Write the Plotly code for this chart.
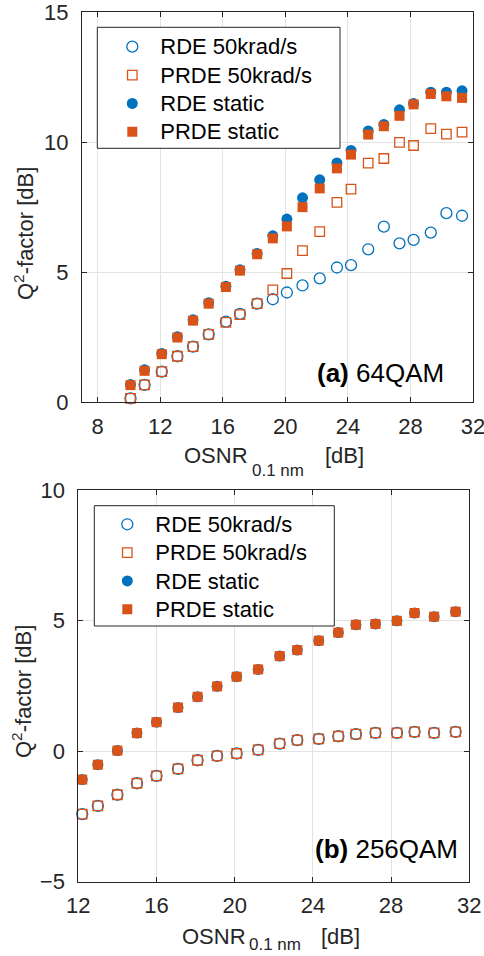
import plotly.graph_objects as go

W, H = 484, 956

# ---------------- data ----------------
osnr_64 = [10.1, 11.0, 12.1, 13.1, 14.1, 15.1, 16.2, 17.1, 18.2, 19.2, 20.1,
           21.1, 22.2, 23.3, 24.2, 25.3, 26.3, 27.3, 28.2, 29.3, 30.3, 31.3]
rde_dyn_64 = [0.15, 0.67, 1.18, 1.77, 2.14, 2.61, 3.10, 3.40, 3.79, 3.96, 4.22,
              4.49, 4.76, 5.18, 5.27, 5.88, 6.75, 6.11, 6.24, 6.52, 7.27, 7.17]
prde_dyn_64 = [0.15, 0.67, 1.18, 1.77, 2.14, 2.61, 3.07, 3.37, 3.79, 4.32, 4.95,
               5.83, 6.56, 7.68, 8.19, 9.19, 9.37, 9.99, 9.87, 10.52, 10.31, 10.38]
rde_sta_64 = [0.68, 1.25, 1.88, 2.52, 3.17, 3.83, 4.46, 5.09, 5.72, 6.40, 7.04,
              7.86, 8.55, 9.20, 9.68, 10.43, 10.68, 11.24, 11.48, 11.92, 11.92, 11.97]
prde_sta_64 = [0.66, 1.21, 1.85, 2.49, 3.14, 3.79, 4.43, 5.06, 5.69, 6.30, 6.76,
               7.50, 8.22, 8.99, 9.52, 10.29, 10.61, 11.01, 11.45, 11.85, 11.76, 11.70]

osnr_256 = [12.2, 13.0, 14.0, 15.0, 16.0, 17.1, 18.1, 19.1, 20.1, 21.2,
            22.3, 23.2, 24.3, 25.3, 26.2, 27.2, 28.3, 29.2, 30.2, 31.3]
rde_dyn_256 = [-2.41, -2.10, -1.67, -1.23, -0.95, -0.68, -0.35, -0.18, -0.09, 0.05,
               0.29, 0.42, 0.47, 0.57, 0.65, 0.70, 0.70, 0.74, 0.70, 0.74]
prde_dyn_256 = [-2.41, -2.10, -1.67, -1.23, -0.95, -0.68, -0.35, -0.18, -0.09, 0.05,
                0.29, 0.42, 0.47, 0.57, 0.65, 0.70, 0.70, 0.74, 0.70, 0.74]
rde_sta_256 = [-1.09, -0.52, 0.02, 0.69, 1.11, 1.67, 2.08, 2.48, 2.85, 3.13,
               3.64, 3.87, 4.23, 4.54, 4.84, 4.87, 4.99, 5.29, 5.15, 5.34]
prde_sta_256 = [-1.09, -0.52, 0.02, 0.69, 1.11, 1.67, 2.08, 2.48, 2.85, 3.13,
                3.64, 3.87, 4.23, 4.54, 4.84, 4.87, 4.99, 5.29, 5.15, 5.34]

names = ["RDE 50krad/s", "PRDE 50krad/s", "RDE static", "PRDE static"]
x_ticks_64 = [8, 12, 16, 20, 24, 28, 32]
x_ticks_256 = [12, 16, 20, 24, 28, 32]
y_ticks_64 = [0, 5, 10, 15]
y_ticks_256 = [-5, 0, 5, 10]

BLUE = "#0072BD"
ORANGE = "#D95319"
TXT = "#262626"
FONT = "Liberation Sans, Arial, sans-serif"

# ---------------- helpers (pixel -> paper) ----------------
def px(x):
    return x / W

def py(y):
    return 1 - y / H

styles = [
    dict(symbol="circle-open", size=11, color=BLUE, line=dict(color=BLUE, width=1.3)),
    dict(symbol="square-open", size=9.5, color=ORANGE, line=dict(color=ORANGE, width=1.3)),
    dict(symbol="circle", size=11, color=BLUE, line=dict(width=0)),
    dict(symbol="square", size=10, color=ORANGE, line=dict(width=0)),
]

fig = go.Figure()

def lname(n):
    return '<span style="font-size:22px">' + n + '</span>'

sets = [
    ("x", "y", "legend", osnr_64, [rde_dyn_64, prde_dyn_64, rde_sta_64, prde_sta_64]),
    ("x2", "y2", "legend2", osnr_256, [rde_dyn_256, prde_dyn_256, rde_sta_256, prde_sta_256]),
]
for xa, ya, lg, xs, ys_list in sets:
    for n, ys, st in zip(names, ys_list, styles):
        fig.add_trace(go.Scatter(
            x=xs, y=ys, mode="markers", name=lname(n), marker=st,
            xaxis=xa, yaxis=ya, legend=lg, cliponaxis=False, hoverinfo="x+y"))

axis_common = dict(
    showline=True, linecolor=TXT, linewidth=1, mirror="allticks",
    ticks="inside", ticklen=5, tickcolor=TXT, tickwidth=1,
    showgrid=True, gridcolor="#e3e3e3", gridwidth=1,
    zeroline=False, automargin=False, ticklabeloverflow="allow",
    tickfont=dict(family=FONT, size=22, color=TXT),
)

# top panel box: x 82..473, y 12..402.3
# bottom panel box: x 78.3..469.3, y 490..881.7
fig.update_layout(
    width=W, height=H, autosize=False,
    margin=dict(l=0, r=0, t=0, b=0),
    paper_bgcolor="white", plot_bgcolor="white",
    font=dict(family=FONT, color=TXT),
    xaxis=dict(axis_common, domain=[px(82), px(473)], range=[7, 32],
               tickvals=x_ticks_64, anchor="y", ticklabelstandoff=4),
    yaxis=dict(axis_common, domain=[py(402.3), py(12)], range=[0, 15],
               tickvals=y_ticks_64, anchor="x", ticklabelstandoff=8),
    xaxis2=dict(axis_common, domain=[px(78.3), px(469.3)], range=[12, 32],
                tickvals=x_ticks_256, anchor="y2", ticklabelstandoff=4),
    yaxis2=dict(axis_common, domain=[py(881.7), py(490)], range=[-5, 10],
                tickvals=y_ticks_256, anchor="x2", ticklabelstandoff=8),
    legend=dict(x=px(104.3), y=py(27.5), xanchor="left", yanchor="top",
                bgcolor="rgba(0,0,0,0)", borderwidth=0, itemwidth=46,
                font=dict(family=FONT, size=19.5, color="#000000"),
                itemclick=False, itemdoubleclick=False),
    legend2=dict(x=px(99.3), y=py(505.1), xanchor="left", yanchor="top",
                 bgcolor="rgba(0,0,0,0)", borderwidth=0, itemwidth=46,
                 font=dict(family=FONT, size=19.5, color="#000000"),
                 itemclick=False, itemdoubleclick=False),
    showlegend=True,
)

# legend boxes
for (x0, x1, y0, y1) in [(97.3, 340, 27.3, 148.3), (94.3, 334.3, 505.7, 626)]:
    fig.add_shape(type="rect", xref="paper", yref="paper",
                  x0=px(x0), x1=px(x1), y0=py(y1), y1=py(y0),
                  line=dict(color=TXT, width=1), fillcolor="white", layer="above")

ann = []
def text(x, y, s, size, xanchor="center", yanchor="middle", angle=0, color=TXT):
    ann.append(dict(x=px(x), y=py(y), xref="paper", yref="paper", text=s,
                    showarrow=False, xanchor=xanchor, yanchor=yanchor,
                    textangle=angle, font=dict(family=FONT, size=size, color=color)))

# x-axis titles (OSNR with subscript)
for (cx_main, cx_sub, cx_db, cy, cy_sub) in [(215.8, 278, 344, 455, 470),
                                               (213.8, 275, 340, 936, 944)]:
    text(cx_main, cy, "OSNR", 22)
    text(cx_sub, cy_sub, "0.1 nm", 17)
    text(cx_db, cy, "[dB]", 22)

# y-axis titles
text(24, 234, "Q<sup>2</sup>-factor [dB]", 22, angle=-90)
text(22, 692, "Q<sup>2</sup>-factor [dB]", 22, angle=-90)

# panel labels
text(446, 373, "<b>(a)</b> 64QAM", 26, xanchor="right", color="#000000")
text(459.5, 849, "<b>(b)</b> 256QAM", 26, xanchor="right", color="#000000")

fig.update_layout(annotations=ann)

fig.write_html(
    "out.html",
    config={"displayModeBar": False},
    post_script="document.body.style.margin='0';document.body.style.overflow='hidden';",
)
